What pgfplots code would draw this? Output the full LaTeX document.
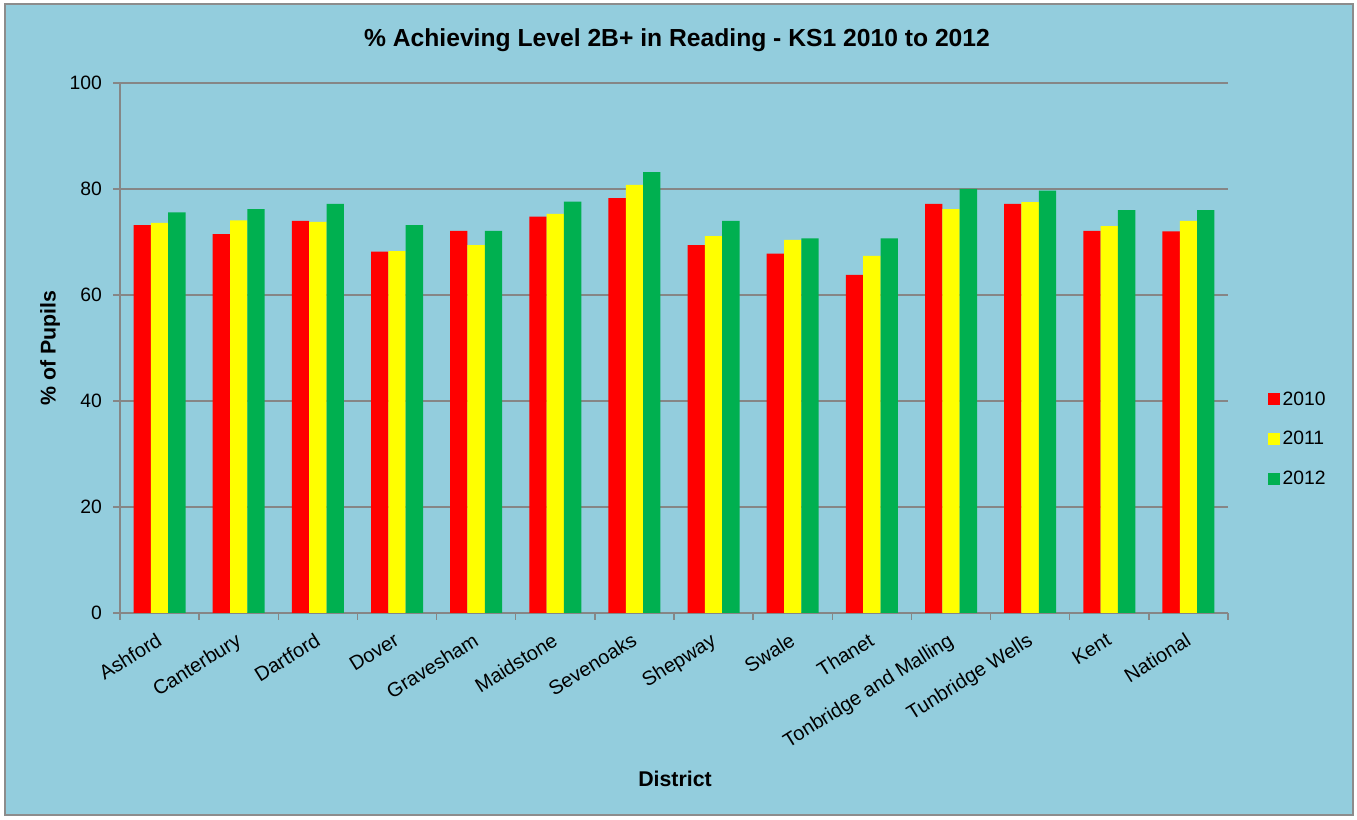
\documentclass[border=0pt]{standalone}
\usepackage{pgfplots}
\pgfplotsset{compat=1.18}
\usepackage{fontspec}
\setmainfont{Liberation Sans}
\definecolor{bg}{HTML}{93CDDD}
\definecolor{framec}{HTML}{8C8C8C}
\definecolor{c10}{HTML}{FF0000}
\definecolor{c11}{HTML}{FFFF00}
\definecolor{c12}{HTML}{00B050}
\definecolor{gridc}{HTML}{868686}
\begin{document}
\begin{tikzpicture}
\begin{scope}[x=0.75pt,y=0.75pt]
\path[use as bounding box] (0,0) rectangle (1357,820);
\fill[white] (0,0) rectangle (1357,820);
\draw[framec, fill=bg, line width=1.5pt] (4.5,4.5) rectangle (1352.5,815.5);
\node[font=\fontsize{18.5}{22}\selectfont\bfseries] at (677,780) {\% Achieving Level 2B+ in Reading - KS1 2010 to 2012};
\node[font=\fontsize{16}{19}\selectfont\bfseries] at (675,41) {District};
\node[font=\fontsize{16}{19}\selectfont\bfseries, rotate=90] at (50,472) {\% of Pupils};
\end{scope}
\begin{axis}[
  at={(90pt,155.25pt)}, anchor=south west,
  scale only axis, width=831pt, height=397.5pt,
  /pgf/number format/assume math mode=true,
  ymin=0, ymax=100, ytick={0,20,...,100},
  xmin=-0.5, xmax=13.5,
  xtick={0,...,13},
  xticklabels={Ashford,Canterbury,Dartford,Dover,Gravesham,Maidstone,Sevenoaks,Shepway,Swale,Thanet,Tonbridge and Malling,Tunbridge Wells,Kent,National},
  minor xtick={-0.5,0.5,...,13.5},
  minor ytick={0,20,...,100},
  major tick length=0pt,
  minor tick length=5pt,
  tick align=outside,
  tick style={gridc, line width=1pt},
  axis x line*=bottom, axis y line*=left,
  axis line style={gridc, line width=1pt},
  ymajorgrids, grid style={gridc, line width=1pt},
  ybar=0pt, bar width=13pt,
  tick label style={font=\fontsize{14.5}{17}\selectfont},
  y tick label style={anchor=east, xshift=-10pt},
  x tick label style={font=\fontsize{15}{18}\selectfont, xshift=-3pt, yshift=-14pt, rotate=32, anchor=north east, inner sep=0pt},
  legend style={at={(1.036,0.328)}, anchor=west, draw=none, fill=none, inner sep=0pt,
    font=\fontsize{14.5}{17}\selectfont, row sep=14.25pt},
  legend cell align=left,
  legend image code/.code={\fill[#1] (0pt,-4.4pt) rectangle (8.8pt,4.4pt);},
]
\addplot[fill=c10, draw=none] coordinates {(0,73.2) (1,71.5) (2,74.0) (3,68.2) (4,72.1) (5,74.8) (6,78.3) (7,69.4) (8,67.8) (9,63.8) (10,77.2) (11,77.2) (12,72.1) (13,72.0)};
\addplot[fill=c11, draw=none] coordinates {(0,73.6) (1,74.1) (2,73.8) (3,68.3) (4,69.4) (5,75.3) (6,80.8) (7,71.1) (8,70.4) (9,67.4) (10,76.2) (11,77.5) (12,73.0) (13,74.0)};
\addplot[fill=c12, draw=none] coordinates {(0,75.6) (1,76.2) (2,77.2) (3,73.2) (4,72.1) (5,77.6) (6,83.2) (7,74.0) (8,70.7) (9,70.7) (10,80.0) (11,79.7) (12,76.0) (13,76.0)};
\legend{2010,2011,2012}
\end{axis}
\end{tikzpicture}
\end{document}
